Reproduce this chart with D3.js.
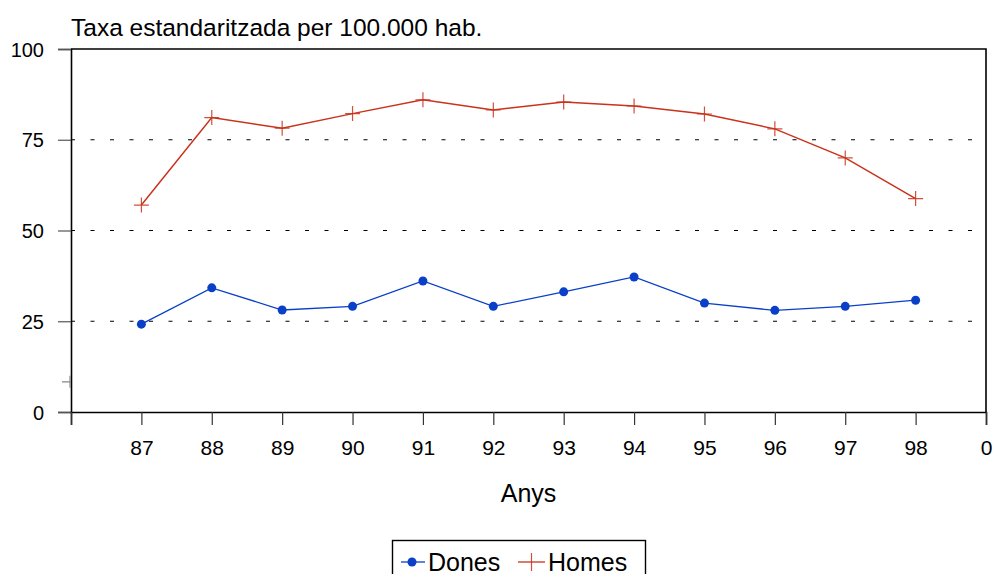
<!DOCTYPE html>
<html>
<head>
<meta charset="utf-8">
<script src="https://d3js.org/d3.v7.min.js"></script>
<style>
  body { margin: 0; background: #fff; }
  text { font-family: "Liberation Sans", Arial, Helvetica, sans-serif; fill: #000; }
</style>
</head>
<body>
<svg id="chart" width="993" height="574"></svg>
<script>
// data
const years = ["87", "88", "89", "90", "91", "92", "93", "94", "95", "96", "97", "98"];
const axisSlots = ["86", ...years, "0"];           // first slot unlabelled, last one shows "0"
const dones = [24.2, 34.2, 28.1, 29.1, 36.1, 29.1, 33.1, 37.2, 30.0, 28.0, 29.1, 30.8];
const homes = [57.0, 81.1, 78.2, 82.2, 86.0, 83.2, 85.4, 84.3, 82.1, 78.0, 70.0, 58.8];
const yTicks = [0, 25, 50, 75, 100];
const gridValues = [25, 50, 75];
const strayMark = { slot: "86", value: 8.3 };

const svg = d3.select("#chart");
const plotL = 71, plotR = 986, plotT = 49, plotB = 412;

const x = d3.scalePoint().domain(axisSlots).range([plotL, plotR]);
const y = d3.scaleLinear().domain([0, 100]).range([plotB, plotT]);

const red = "#c9321b", blue = "#0a40c8";

// title
svg.append("text")
  .attr("x", plotL).attr("y", 36)
  .style("font-size", "24.5px")
  .text("Taxa estandaritzada per 100.000 hab.");

// dotted grid lines
svg.append("g").selectAll("line").data(gridValues).join("line")
  .attr("x1", plotL).attr("x2", plotR)
  .attr("y1", d => y(d)).attr("y2", d => y(d))
  .attr("stroke", "#000").attr("stroke-width", 1.2)
  .attr("stroke-dasharray", "4,15.5");

// frame (top + right)
svg.append("path")
  .attr("d", `M${plotL},${plotT}H${plotR}V${plotB}`)
  .attr("fill", "none").attr("stroke", "#000").attr("stroke-width", 1.6);

// y axis
const yAxis = svg.append("g").attr("transform", `translate(${plotL},0)`)
  .call(d3.axisLeft(y).tickValues(yTicks).tickSize(13).tickPadding(14).tickFormat(d3.format("d")));
yAxis.select(".domain").attr("stroke", "#000").attr("stroke-width", 1.6);
yAxis.selectAll(".tick line").attr("stroke", "#555").attr("stroke-width", 1.2);
yAxis.selectAll("text").style("font-size", "20px").attr("dy", "0.36em");

// x axis
const xAxis = svg.append("g").attr("transform", `translate(0,${plotB})`)
  .call(d3.axisBottom(x).tickSize(13).tickPadding(15).tickFormat(d => d === "86" ? "" : d));
xAxis.select(".domain").attr("stroke", "#000").attr("stroke-width", 1.6);
xAxis.selectAll(".tick line").attr("stroke", "#333").attr("stroke-width", 1.2);
xAxis.selectAll("text").style("font-size", "21px");

// axis title
svg.append("text")
  .attr("x", (plotL + plotR) / 2).attr("y", 502)
  .attr("text-anchor", "middle")
  .style("font-size", "25px")
  .text("Anys");

// stray clipped marker at the left edge
svg.append("clipPath").attr("id", "leftclip")
  .append("rect").attr("x", 0).attr("y", 0).attr("width", plotL).attr("height", 574);
const sx = x(strayMark.slot), sy = y(strayMark.value);
svg.append("path")
  .attr("clip-path", "url(#leftclip)")
  .attr("d", `M${sx - 9},${sy}H${sx + 8}M${sx - 1},${sy - 6}V${sy + 6}`)
  .attr("stroke", "#888").attr("stroke-width", 1.2);

// series lines
const line = d3.line().x((d, i) => x(years[i])).y(d => y(d));

svg.append("path").datum(homes)
  .attr("d", line).attr("fill", "none")
  .attr("stroke", red).attr("stroke-width", 1.5);

svg.append("g").selectAll("path").data(homes).join("path")
  .attr("d", (d, i) => {
    const px = x(years[i]), py = y(d);
    return `M${px - 7.5},${py}H${px + 7.5}M${px},${py - 7.5}V${py + 7.5}`;
  })
  .attr("stroke", red).attr("stroke-width", 1.2).attr("opacity", 0.85);

svg.append("path").datum(dones)
  .attr("d", line).attr("fill", "none")
  .attr("stroke", blue).attr("stroke-width", 1.3);

svg.append("g").selectAll("circle").data(dones).join("circle")
  .attr("cx", (d, i) => x(years[i])).attr("cy", d => y(d))
  .attr("r", 4.5).attr("fill", blue);

// legend
const lg = svg.append("g");
lg.append("rect")
  .attr("x", 392.5).attr("y", 540.5).attr("width", 253).attr("height", 50)
  .attr("fill", "#fff").attr("stroke", "#000").attr("stroke-width", 1.4);
lg.append("line").attr("x1", 401).attr("x2", 425).attr("y1", 562).attr("y2", 562)
  .attr("stroke", blue).attr("stroke-width", 1.3);
lg.append("circle").attr("cx", 412).attr("cy", 562).attr("r", 4.5).attr("fill", blue);
lg.append("text").attr("x", 428).attr("y", 571).style("font-size", "25px").text("Dones");
lg.append("line").attr("x1", 518).attr("x2", 545).attr("y1", 562).attr("y2", 562)
  .attr("stroke", red).attr("stroke-width", 1.3);
lg.append("line").attr("x1", 531.5).attr("x2", 531.5).attr("y1", 553).attr("y2", 571)
  .attr("stroke", red).attr("stroke-width", 1.2).attr("opacity", 0.85);
lg.append("text").attr("x", 548).attr("y", 571).style("font-size", "25px").text("Homes");
</script>
</body>
</html>
